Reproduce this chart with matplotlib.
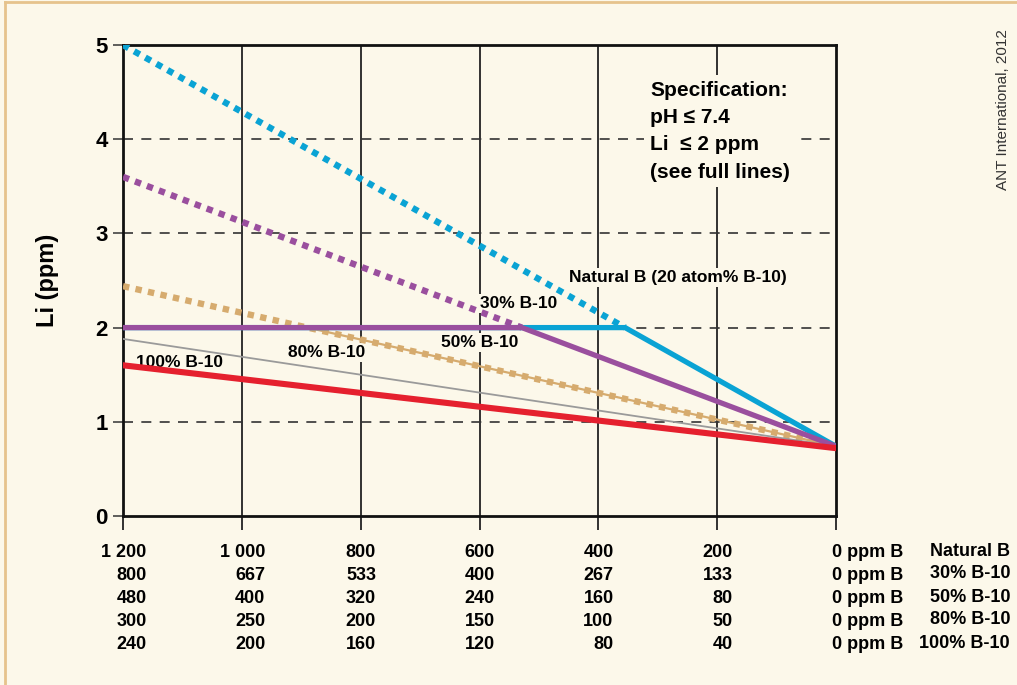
import matplotlib
matplotlib.use("Agg")
import matplotlib.pyplot as plt
from matplotlib.lines import Line2D
from matplotlib import font_manager

# natural boron ppm on the main axis (1200 -> 0)
b_ticks = [1200, 1000, 800, 600, 400, 200, 0]
row_labels = [
    ["1 200", "1 000", "800", "600", "400", "200", "0 ppm B"],
    ["800", "667", "533", "400", "267", "133", "0 ppm B"],
    ["480", "400", "320", "240", "160", "80", "0 ppm B"],
    ["300", "250", "200", "150", "100", "50", "0 ppm B"],
    ["240", "200", "160", "120", "80", "40", "0 ppm B"],
]
row_names = ["Natural B", "30% B-10", "50% B-10", "80% B-10", "100% B-10"]

# Li (ppm) at 1200 and 0 ppm natural B
nat_x = [1200, 0]
nat_li = [5.0, 0.74]
b30_li = [3.6, 0.74]
b50_li = [2.44, 0.74]
b80_li = [1.88, 0.74]
b100_li = [1.60, 0.72]
li_limit = 2.0

names = {f.name for f in font_manager.fontManager.ttflist}
FONT = "Liberation Sans Narrow" if "Liberation Sans Narrow" in names else "Liberation Sans"
plt.rcParams["font.family"] = [FONT, "DejaVu Sans"]

BG = "#fcf8ea"
BLUE = "#0aa3d4"
PURPLE = "#9a4f9e"
TAN = "#d6ab6e"
GRAY = "#9a9a9a"
RED = "#e5202e"


def x_at_limit(li):
    # where the straight line crosses the Li limit
    return 1200.0 * (li_limit - li[1]) / (li[0] - li[1])


fig = plt.figure(figsize=(10.17, 6.85), dpi=100, facecolor=BG)
ax = fig.add_axes([123 / 1017, 1 - 516 / 685, 713 / 1017, 471 / 685])
ax.set_facecolor(BG)
ax.set_xlim(1200, 0)
ax.set_ylim(0, 5)

# grid
for x in b_ticks[1:-1]:
    ax.axvline(x, color="#222222", lw=1.3, zorder=1)
for y in [1, 2, 3, 4]:
    ax.axhline(y, color="#333333", lw=1.2, ls=(0, (6, 5)), zorder=1)

dot = dict(ls=(0, (1, 1)), dash_capstyle="butt", solid_capstyle="butt")

# natural B
xn = x_at_limit(nat_li)
ax.plot([1200, xn], [nat_li[0], li_limit], color=BLUE, lw=4.6, zorder=3, **dot)
ax.plot([1200, xn, 0], [li_limit, li_limit, nat_li[1]], color=BLUE, lw=3.8, zorder=4)
# 30 % B-10
x3 = x_at_limit(b30_li)
ax.plot([1200, x3], [b30_li[0], li_limit], color=PURPLE, lw=4.6, zorder=3, **dot)
ax.plot([1200, x3, 0], [li_limit, li_limit, b30_li[1]], color=PURPLE, lw=3.8, zorder=5)
# 50 % B-10
x5 = x_at_limit(b50_li)
ax.plot([x5, 0], [li_limit, b50_li[1]], color=TAN, lw=1.6, zorder=3)
ax.plot(nat_x, b50_li, color=TAN, lw=4.6, zorder=3, **dot)
# 80 % B-10
ax.plot(nat_x, b80_li, color=GRAY, lw=1.3, zorder=3)
# 100 % B-10
ax.plot(nat_x, b100_li, color=RED, lw=4.4, zorder=6)

for s in ax.spines.values():
    s.set_linewidth(2.0)
    s.set_color("#111111")

ax.set_xticks(b_ticks)
ax.set_xticklabels([])
ax.tick_params(axis="x", direction="out", length=10, width=1.3, color="#222222")
ax.set_yticks([0, 1, 2, 3, 4, 5])
ax.tick_params(axis="y", direction="out", length=7, width=1.2, color="#444444",
               labelsize=16, pad=4)
for t in ax.get_yticklabels():
    t.set_fontweight("bold")
ax.set_ylabel("Li (ppm)", fontsize=17, fontweight="bold", labelpad=26)

# table of boron values below the axis
offs = {1200: 17, 1000: 17}
for r, labels in enumerate(row_labels):
    for x, lab in zip(b_ticks, labels):
        if x == 0:
            ax.annotate(lab, xy=(x, 0), xycoords=("data", "axes fraction"),
                        xytext=(-3, -26 - 16.6 * r), textcoords="offset points",
                        ha="left", va="center", fontsize=13, fontweight="bold")
        else:
            ax.annotate(lab, xy=(x, 0), xycoords=("data", "axes fraction"),
                        xytext=(offs.get(x, 11), -26 - 16.6 * r), textcoords="offset points",
                        ha="right", va="center", fontsize=13, fontweight="bold")
    fig.text(1010 / 1017, 1 - (551 + 23 * r) / 685, row_names[r], ha="right", va="center",
             fontsize=13, fontweight="bold")

box = dict(facecolor=BG, edgecolor="none", pad=1.5)
ax.text(313, 4.62, "Specification:\npH \u2264 7.4\nLi  \u2264 2 ppm\n(see full lines)",
        ha="left", va="top", fontsize=15, fontweight="bold", linespacing=1.55,
        bbox=dict(facecolor=BG, edgecolor="none", pad=4), zorder=7)
ax.text(450, 2.53, "Natural B (20 atom% B-10)", ha="left", va="center", fontsize=12.5,
        fontweight="bold", bbox=box, zorder=7)
ax.text(600, 2.26, "30% B-10", ha="left", va="center", fontsize=12.5,
        fontweight="bold", bbox=box, zorder=2)
ax.text(665, 1.84, "50% B-10", ha="left", va="center", fontsize=12.5,
        fontweight="bold", bbox=box, zorder=2)
ax.text(922, 1.74, "80% B-10", ha="left", va="center", fontsize=12.5,
        fontweight="bold", bbox=box, zorder=2)
ax.text(1178, 1.63, "100% B-10", ha="left", va="center", fontsize=12.5,
        fontweight="bold", bbox=dict(facecolor="none", edgecolor="none", pad=1.5), zorder=2)

fig.text(1003 / 1017, 1 - 110 / 685, "ANT International, 2012", rotation=90,
         ha="center", va="center", fontsize=11, color="#333333",
         family=["Liberation Sans", "DejaVu Sans"])

# frame of the figure
fig.add_artist(Line2D([5 / 1017, 5 / 1017], [0, 1 - 2 / 685], transform=fig.transFigure,
                      color="#e6c38c", lw=2))
fig.add_artist(Line2D([5 / 1017, 1], [1 - 2 / 685, 1 - 2 / 685], transform=fig.transFigure,
                      color="#e6c38c", lw=2))

fig.savefig("out.png", dpi=100, facecolor=BG)
